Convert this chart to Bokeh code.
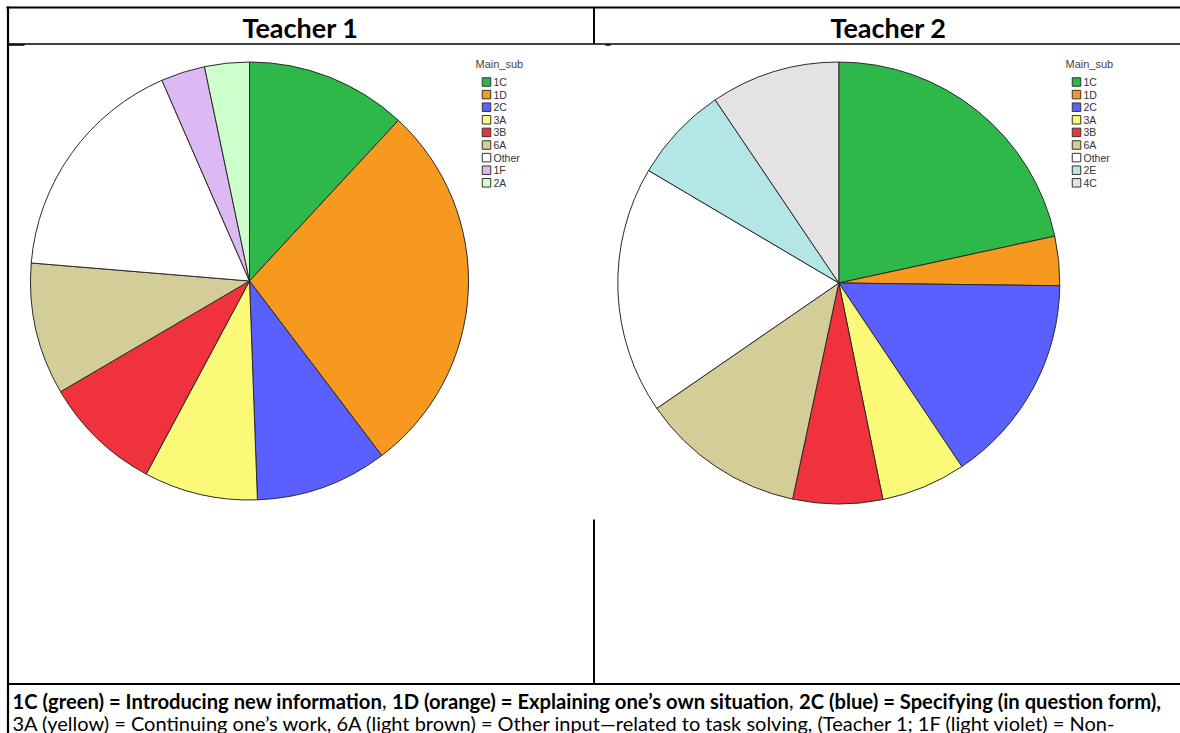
import math
from bokeh.plotting import figure
from bokeh.models import Range1d, ColumnDataSource
from bokeh.core.properties import value
from bokeh.embed import file_html
from bokeh.resources import INLINE

# ---------------- data ----------------
teacher1_cats = ["1C", "1D", "2C", "3A", "3B", "6A", "Other", "1F", "2A"]
teacher1_vals = [11.9, 27.8, 9.75, 8.4, 8.75, 9.75, 17.15, 3.25, 3.3]
teacher1_colors = ["#2eb84a", "#f7991f", "#5a60ff", "#fafa78", "#f0323c",
                   "#d4cd98", "#ffffff", "#dcb9f2", "#ccffcc"]

teacher2_cats = ["1C", "1D", "2C", "3A", "3B", "6A", "Other", "2E", "4C"]
teacher2_vals = [21.6, 3.6, 15.4, 6.2, 6.55, 12.05, 18.1, 7.05, 9.45]
teacher2_colors = ["#2eb84a", "#f7991f", "#5a60ff", "#fafa78", "#f0323c",
                   "#d4cd98", "#ffffff", "#b4e6e8", "#e3e3e3"]

headers = ["Teacher 1", "Teacher 2"]
legend_title = "Main_sub"

caption_line1 = [
    ("1C (green) = Introducing new information", "bold"),
    (",", "normal"),
    ("1D (orange) = Explaining one\u2019s own situation", "bold"),
    (",", "normal"),
    ("2C (blue) = Specifying (in question form),", "bold"),
]
caption_line2 = ("3A (yellow) = Continuing one\u2019s work, 6A (light brown) = Other input\u2014related "
                 "to task solving, (Teacher 1; 1F (light violet) = Non-")

# ---------------- figure (page pixel coordinates, y negated) ----------------
W, H = 1180, 733
p = figure(width=W, height=H, x_range=Range1d(0, W), y_range=Range1d(-H, 0),
           output_backend="svg", toolbar_location=None, min_border=0)
p.axis.visible = False
p.grid.visible = False
p.outline_line_color = None
p.background_fill_color = "white"
p.border_fill_color = "white"

FONT = "Lato"

# table lines
p.segment(x0=[6], y0=[-7], x1=[1200], y1=[-7], line_color="black", line_width=2.2)        # top
p.segment(x0=[7.5], y0=[-6], x1=[7.5], y1=[-740], line_color="black", line_width=2.2)     # left
p.segment(x0=[7], y0=[-43.5], x1=[1200], y1=[-43.5], line_color="black", line_width=1.5)  # header bottom
p.segment(x0=[593.5], y0=[-7], x1=[593.5], y1=[-43.5], line_color="black", line_width=2)
p.segment(x0=[593.5], y0=[-519], x1=[593.5], y1=[-684], line_color="black", line_width=2)
p.segment(x0=[7], y0=[-683.5], x1=[1200], y1=[-683.5], line_color="black", line_width=2)
p.segment(x0=[7], y0=[-44.5], x1=[24], y1=[-44.5], line_color="black", line_width=1.5)
p.segment(x0=[605], y0=[-44.5], x1=[610], y1=[-44.5], line_color="black", line_width=1.5)

# headers
p.text(x=[300, 888], y=[-26.5, -26.5], text=headers, text_align="center", text_baseline="middle",
       text_font=value(FONT), text_font_style="bold", text_font_size="27px", text_color="black")


def draw_pie(cats, vals, colors, cx, cy, r, lx, ly):
    total = float(sum(vals))
    starts, ends = [], []
    acc = 0.0
    for v in vals:
        starts.append(math.pi / 2 - 2 * math.pi * acc / total)
        acc += v
        ends.append(math.pi / 2 - 2 * math.pi * acc / total)
    src = ColumnDataSource(dict(x=[cx] * len(vals), y=[-cy] * len(vals), s=starts, e=ends,
                                c=colors, cat=cats, v=vals))
    p.wedge(x="x", y="y", radius=r, start_angle="s", end_angle="e", direction="clock",
            fill_color="c", line_color="#2a2a2a", line_width=1, source=src)
    # legend
    p.text(x=[lx], y=[-ly], text=[legend_title], text_align="left", text_baseline="middle",
           text_font=value("Liberation Sans"), text_font_size="11px", text_color="#444444")
    ys = [-(ly + 18.5 + 12.6 * i) for i in range(len(cats))]
    p.rect(x=[lx + 11] * len(cats), y=ys, width=8.5, height=8.5, fill_color=colors,
           line_color="#333333", line_width=1)
    p.text(x=[lx + 18] * len(cats), y=ys, text=cats, text_align="left", text_baseline="middle",
           text_font=value("Liberation Sans"), text_font_size="10.5px", text_color="#333333")


draw_pie(teacher1_cats, teacher1_vals, teacher1_colors, 249, 280.5, 219, 475, 63)
draw_pie(teacher2_cats, teacher2_vals, teacher2_colors, 838.3, 282.5, 221, 1065, 63)

# caption
starts1 = [12, 381.5, 391.5, 788.5, 798.5]
for (txt, style), sx in zip(caption_line1, starts1):
    p.text(x=[sx], y=[-700], text=[txt], text_align="left", text_baseline="middle",
           text_font=value(FONT), text_font_style=style, text_font_size="20.2px", text_color="black")
p.text(x=[12], y=[-722], text=[caption_line2], text_align="left", text_baseline="middle",
       text_font=value(FONT), text_font_style="normal", text_font_size="20px", text_color="black")

open("out.html", "w").write(file_html(p, INLINE))
